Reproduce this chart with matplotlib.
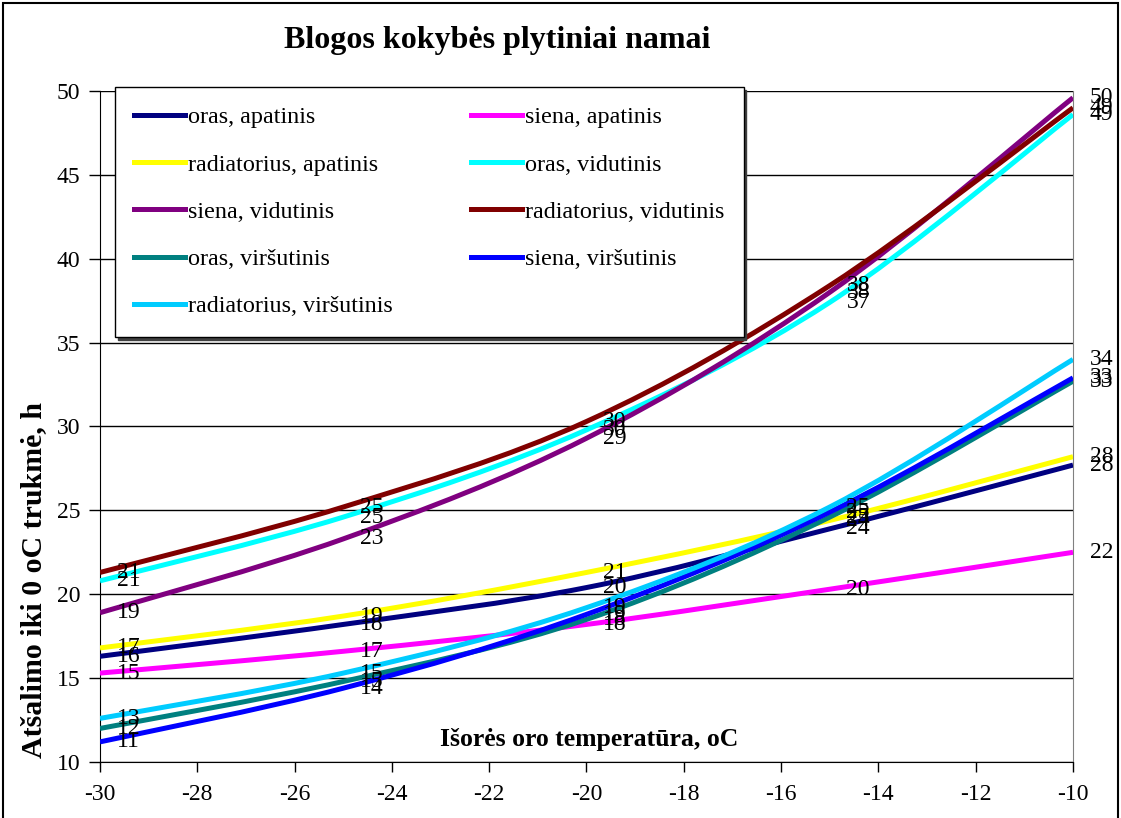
import numpy as np
import matplotlib
matplotlib.use("Agg")
import matplotlib.pyplot as plt
from matplotlib.path import Path
from matplotlib.patches import PathPatch, Rectangle
from matplotlib.lines import Line2D

plt.rcParams['font.family'] = ['Liberation Serif', 'DejaVu Serif']
plt.rcParams['axes.unicode_minus'] = False

# lauko temperatūra, oC
temperatura = [-30, -25, -20, -15, -10]

# atšalimo trukmė, h
oras_apatinis = [16.3, 18.2, 20.4, 23.9, 27.7]
siena_apatinis = [15.3, 16.6, 18.2, 20.3, 22.5]
radiatorius_apatinis = [16.8, 18.7, 21.3, 24.4, 28.2]
oras_vidutinis = [20.8, 24.6, 29.8, 37.4, 48.6]
siena_vidutinis = [18.9, 23.3, 29.3, 38.0, 49.6]
radiatorius_vidutinis = [21.3, 25.2, 30.3, 38.4, 49.0]
oras_virsutinis = [12.0, 14.8, 18.5, 24.6, 32.7]
siena_virsutinis = [11.2, 14.4, 18.8, 24.9, 32.9]
radiatorius_virsutinis = [12.6, 15.3, 19.2, 25.2, 34.0]

serijos = [
    ('oras, apatinis', oras_apatinis, '#000080'),
    ('siena, apatinis', siena_apatinis, '#FF00FF'),
    ('radiatorius, apatinis', radiatorius_apatinis, '#FFFF00'),
    ('oras, vidutinis', oras_vidutinis, '#00FFFF'),
    ('siena, vidutinis', siena_vidutinis, '#800080'),
    ('radiatorius, vidutinis', radiatorius_vidutinis, '#800000'),
    ('oras, viršutinis', oras_virsutinis, '#008080'),
    ('siena, viršutinis', siena_virsutinis, '#0000FF'),
    ('radiatorius, viršutinis', radiatorius_virsutinis, '#00CCFF'),
]


def smooth_path(xs, ys):
    # Excel stiliaus glotni kreivė (Bezier per taškus)
    pts = np.column_stack([xs, ys]).astype(float)
    ext = np.vstack([pts[0], pts, pts[-1]])
    verts = [pts[0]]
    codes = [Path.MOVETO]
    for i in range(len(pts) - 1):
        p0, p1, p2, p3 = ext[i], ext[i + 1], ext[i + 2], ext[i + 3]
        verts += [p1 + (p2 - p0) / 6, p2 - (p3 - p1) / 6, p2]
        codes += [Path.CURVE4] * 3
    return Path(verts, codes)


fig = plt.figure(figsize=(11.21, 8.18), dpi=100)
ax = fig.add_axes([100 / 1121, 1 - 762 / 818, 973 / 1121, 671 / 818])

handles = []
for name, vals, col in serijos:
    ax.add_patch(PathPatch(smooth_path(temperatura, vals), fill=False,
                           edgecolor=col, lw=3.6, capstyle='butt', zorder=3))
    handles.append(Line2D([], [], color=col, lw=3.6, label=name))

for name, vals, col in serijos:
    for x, y in zip(temperatura, vals):
        ax.annotate(f"{y:.0f}", (x, y), xytext=(12, 0), textcoords='offset points',
                    ha='left', va='center', fontsize=17, color='black',
                    zorder=5, annotation_clip=False)

ax.set_xlim(-30, -10)
ax.set_ylim(10, 50)
ax.set_xticks(np.arange(-30, -9, 2))
ax.set_yticks(np.arange(10, 51, 5))
ax.tick_params(axis='both', direction='out', labelsize=17, width=1, color='black')
ax.tick_params(axis='y', length=8, pad=6)
ax.tick_params(axis='x', length=7, pad=9)
ax.grid(axis='y', color='black', lw=1)
ax.set_axisbelow(True)
ax.spines['top'].set_visible(False)
ax.spines['right'].set_color('#808080')
ax.spines['left'].set_color('black')
ax.spines['bottom'].set_color('black')

ax.set_xlabel('Išorės oro temperatūra, oC', fontsize=18.5, fontweight='bold')
ax.xaxis.set_label_coords(0.503, 0.033)
ax.xaxis.label.set_va('center')
ax.set_ylabel('Atšalimo iki 0 oC trukmė, h', fontsize=21.5, fontweight='bold')
ax.yaxis.set_label_coords(-0.068, 0.271)
ax.yaxis.label.set_va('center')

fig.text(0.444, 0.951, 'Blogos kokybės plytiniai namai', ha='center', va='center',
         fontsize=23, fontweight='bold')

# legenda eilutėmis po 2
order = [0, 2, 4, 6, 8, 1, 3, 5, 7]
leg = ax.legend([handles[i] for i in order], [handles[i].get_label() for i in order],
                ncol=2, loc='upper left', bbox_to_anchor=(115 / 1121, 1 - 87 / 818),
                bbox_transform=fig.transFigure, borderaxespad=0, fontsize=17.4,
                frameon=True, fancybox=False, framealpha=1, edgecolor='black',
                handlelength=2.1, handletextpad=0.12, labelspacing=1.05,
                columnspacing=3.25, borderpad=0.8,
                shadow={'color': '#404040', 'alpha': 1.0})
leg.get_frame().set_linewidth(1)
leg.set_zorder(10)

fig.patches.append(Rectangle((3 / 1121, -0.02), 1 - 6 / 1121, 1.02 - 3 / 818,
                             transform=fig.transFigure, fill=False,
                             edgecolor='black', lw=1.5))

fig.savefig('out.png', dpi=100)
